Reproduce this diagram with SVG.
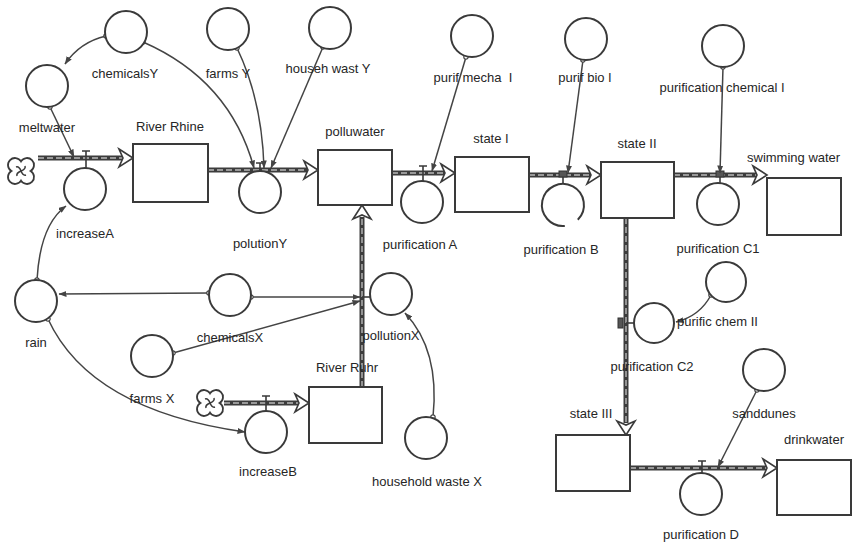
<svg xmlns="http://www.w3.org/2000/svg" width="861" height="549" viewBox="0 0 861 549">
<defs>
<style>
.conv{fill:#fff;stroke:#3a3a3a;stroke-width:2}
.stock{fill:#fff;stroke:#3a3a3a;stroke-width:2}
.pipeo{fill:none;stroke:#3c3c3c;stroke-width:5}
.pipei{fill:none;stroke:#b8b8b8;stroke-width:1.4;stroke-dasharray:6 3}
.fhead{fill:#fff;stroke:#3a3a3a;stroke-width:1.6;stroke-linejoin:miter}
.conn{fill:none;stroke:#444;stroke-width:1.5;marker-end:url(#ah);marker-start:url(#dot)}
.stem{fill:none;stroke:#3a3a3a;stroke-width:1.6}
.valve{fill:#555;stroke:#333;stroke-width:1}
.cloud{fill:#fff;stroke:#3a3a3a;stroke-width:1.8}
.curl{fill:none;stroke:#3a3a3a;stroke-width:1.5}
text{font-family:"Liberation Sans",Arial,sans-serif;font-size:13px;fill:#262626}
.c{text-anchor:middle}
</style>
<marker id="ah" viewBox="0 0 8 6" refX="7.5" refY="3" markerWidth="8" markerHeight="6" markerUnits="userSpaceOnUse" orient="auto">
<path d="M0,0 L8,3 L0,6 z" fill="#444"/>
</marker>
<marker id="dot" viewBox="0 0 6 6" refX="3" refY="3" markerWidth="6" markerHeight="6" markerUnits="userSpaceOnUse">
<circle cx="3" cy="3" r="2.2" fill="#fff" stroke="#444" stroke-width="1.2"/>
</marker>
<g id="cloudshape">
<path class="cloud" d="M0,-9.6 A7,7 0 1 1 9.6,0 A7,7 0 1 1 0,9.6 A7,7 0 1 1 -9.6,0 A7,7 0 1 1 0,-9.6 z"/>
<path class="curl" d="M0,0 q-2,-5 -5,-4 M0,0 q5,-2 4,-5 M0,0 q2,5 5,4 M0,0 q-5,2 -4,5"/>
</g>
</defs>

<g id="connectors">
<path class="pipeo" d="M38,158 H123"/><path class="pipei" d="M38,158 H123"/>
<path class="pipeo" d="M208,170 H308"/><path class="pipei" d="M208,170 H308"/>
<path class="pipeo" d="M392,173 H445"/><path class="pipei" d="M392,173 H445"/>
<path class="pipeo" d="M529,175 H591"/><path class="pipei" d="M529,175 H591"/>
<path class="pipeo" d="M674,175 H757"/><path class="pipei" d="M674,175 H757"/>
<path class="pipeo" d="M626,218 V423"/><path class="pipei" d="M626,218 V423"/>
<path class="pipeo" d="M224,403 H299"/><path class="pipei" d="M224,403 H299"/>
<path class="pipeo" d="M362,387 V217"/><path class="pipei" d="M362,387 V217"/>
<path class="pipeo" d="M630,468 H767"/><path class="pipei" d="M630,468 H767"/>
<polygon class="fhead" points="119,149 133,158 119,167 123,158"/>
<polygon class="fhead" points="304,161 318,170 304,179 308,170"/>
<polygon class="fhead" points="441,164 455,173 441,182 445,173"/>
<polygon class="fhead" points="587,166 601,175 587,184 591,175"/>
<polygon class="fhead" points="753,166 767,175 753,184 757,175"/>
<polygon class="fhead" points="617,421 626,435 635,421 626,425"/>
<polygon class="fhead" points="295,394 309,403 295,412 299,403"/>
<polygon class="fhead" points="353,219 362,205 371,219 362,215"/>
<polygon class="fhead" points="763,459 777,468 763,477 767,468"/>
<path class="stem" d="M82,151 H90 M86,151 V158 M86,158 V168"/>
<path class="stem" d="M256,163 H264 M260,163 V171"/>
<path class="stem" d="M419,166 H427 M423,166 V181"/>
<path class="stem" d="M563,175 V184"/><rect class="valve" x="559" y="171" width="8" height="6"/>
<path class="stem" d="M720,175 V183"/><rect class="valve" x="716" y="171" width="8" height="6"/>
<path class="stem" d="M626,323 H634"/><rect class="valve" x="618" y="318" width="5" height="10"/>
<path class="stem" d="M362,297 H370"/>
<path class="stem" d="M262,396 H270 M266,396 V411"/>
<path class="stem" d="M698,461 H706 M702,461 V473"/>
<path class="conn" d="M106,36 Q80,42 65,64"/>
<path class="conn" d="M143,42 Q230,80 254,168"/>
<path class="conn" d="M237,48 Q262,100 264,168"/>
<path class="conn" d="M323,47 L271,168"/>
<path class="conn" d="M50,107 L74,157"/>
<path class="conn" d="M37,280 Q40,225 66,206"/>
<path class="conn" d="M466,57 L432,171"/>
<path class="conn" d="M583,60 L568,173"/>
<path class="conn" d="M723,67 L720,173"/>
<path class="conn" d="M209,293 L59,294"/>
<path class="conn" d="M251,297 L360,297"/>
<path class="conn" d="M173,353 L360,301"/>
<path class="conn" d="M48,319 Q90,410 245,432"/>
<path class="conn" d="M433,417 Q440,350 405,313"/>
<path class="conn" d="M711,295 Q700,316 676,322"/>
<path class="conn" d="M757,390 L718,467"/>
</g>

<g id="cloud1"><use href="#cloudshape" x="21" y="171"/></g>
<g id="cloud2"><use href="#cloudshape" x="210" y="403"/></g>

<g id="river-rhine"><rect class="stock" x="133" y="144" width="75" height="58"/><text class="c" x="170" y="131">River Rhine</text></g>
<g id="polluwater"><rect class="stock" x="318" y="150" width="74" height="55"/><text class="c" x="355" y="136">polluwater</text></g>
<g id="state-i"><rect class="stock" x="455" y="157" width="74" height="55"/><text class="c" x="491" y="143">state I</text></g>
<g id="state-ii"><rect class="stock" x="601" y="162" width="73" height="56"/><text class="c" x="637" y="148">state II</text></g>
<g id="swimming-water"><rect class="stock" x="767" y="178" width="74" height="57"/><text x="747" y="162">swimming water</text></g>
<g id="river-ruhr"><rect class="stock" x="309" y="387" width="73" height="56"/><text class="c" x="347" y="372">River Ruhr</text></g>
<g id="state-iii"><rect class="stock" x="556" y="435" width="74" height="56"/><text class="c" x="591" y="418">state III</text></g>
<g id="drinkwater"><rect class="stock" x="777" y="460" width="74" height="55"/><text class="c" x="814" y="444">drinkwater</text></g>

<g id="chemicalsY"><circle class="conv" cx="126" cy="32" r="21"/><text class="c" x="125" y="78">chemicalsY</text></g>
<g id="farmsY"><circle class="conv" cx="228" cy="29" r="21"/><text class="c" x="228" y="78">farms Y</text></g>
<g id="househ-wast-Y"><circle class="conv" cx="330" cy="28" r="21"/><text class="c" x="328" y="73">househ wast Y</text></g>
<g id="meltwater"><circle class="conv" cx="47" cy="86" r="21"/><text class="c" x="47" y="132">meltwater</text></g>
<g id="increaseA"><circle class="conv" cx="85" cy="189" r="21"/><text class="c" x="85" y="238">increaseA</text></g>
<g id="polutionY"><circle class="conv" cx="260" cy="192" r="21"/><text class="c" x="260" y="248">polutionY</text></g>
<g id="purification-A"><circle class="conv" cx="422" cy="202" r="21"/><text class="c" x="420" y="249">purification A</text></g>
<g id="purif-mecha-I"><circle class="conv" cx="472" cy="36" r="21"/><text class="c" x="473" y="82" xml:space="preserve">purif mecha  I</text></g>
<g id="purif-bio-I"><circle class="conv" cx="586" cy="39" r="21"/><text class="c" x="585" y="82">purif bio I</text></g>
<g id="purification-B"><path class="conv" d="M564.8,225.9 A21,21 0 1 1 577.8,219.8"/><text class="c" x="561" y="254">purification B</text></g>
<g id="purification-chemical-I"><circle class="conv" cx="723" cy="46" r="21"/><text class="c" x="722" y="92">purification chemical I</text></g>
<g id="purification-C1"><circle class="conv" cx="718" cy="204" r="21"/><text class="c" x="718" y="253">purification C1</text></g>
<g id="rain"><circle class="conv" cx="36" cy="301" r="21"/><text class="c" x="36" y="347">rain</text></g>
<g id="chemicalsX"><circle class="conv" cx="230" cy="295" r="21"/><text class="c" x="230" y="342">chemicalsX</text></g>
<g id="farmsX"><circle class="conv" cx="152" cy="356" r="21"/><text class="c" x="152" y="403">farms X</text></g>
<g id="pollutionX"><circle class="conv" cx="391" cy="294" r="21"/><text class="c" x="391" y="340">pollutionX</text></g>
<g id="increaseB"><circle class="conv" cx="266" cy="432" r="21"/><text class="c" x="268" y="476">increaseB</text></g>
<g id="household-waste-X"><circle class="conv" cx="426" cy="438" r="21"/><text class="c" x="427" y="486">household waste X</text></g>
<g id="purific-chem-II"><circle class="conv" cx="726" cy="282" r="20"/><text x="677" y="326">purific chem II</text></g>
<g id="purification-C2"><circle class="conv" cx="654" cy="323" r="20"/><text class="c" x="652" y="371">purification C2</text></g>
<g id="sanddunes"><circle class="conv" cx="764" cy="370" r="21"/><text class="c" x="764" y="418">sanddunes</text></g>
<g id="purification-D"><circle class="conv" cx="701" cy="494" r="21"/><text class="c" x="701" y="539">purification D</text></g>
</svg>
